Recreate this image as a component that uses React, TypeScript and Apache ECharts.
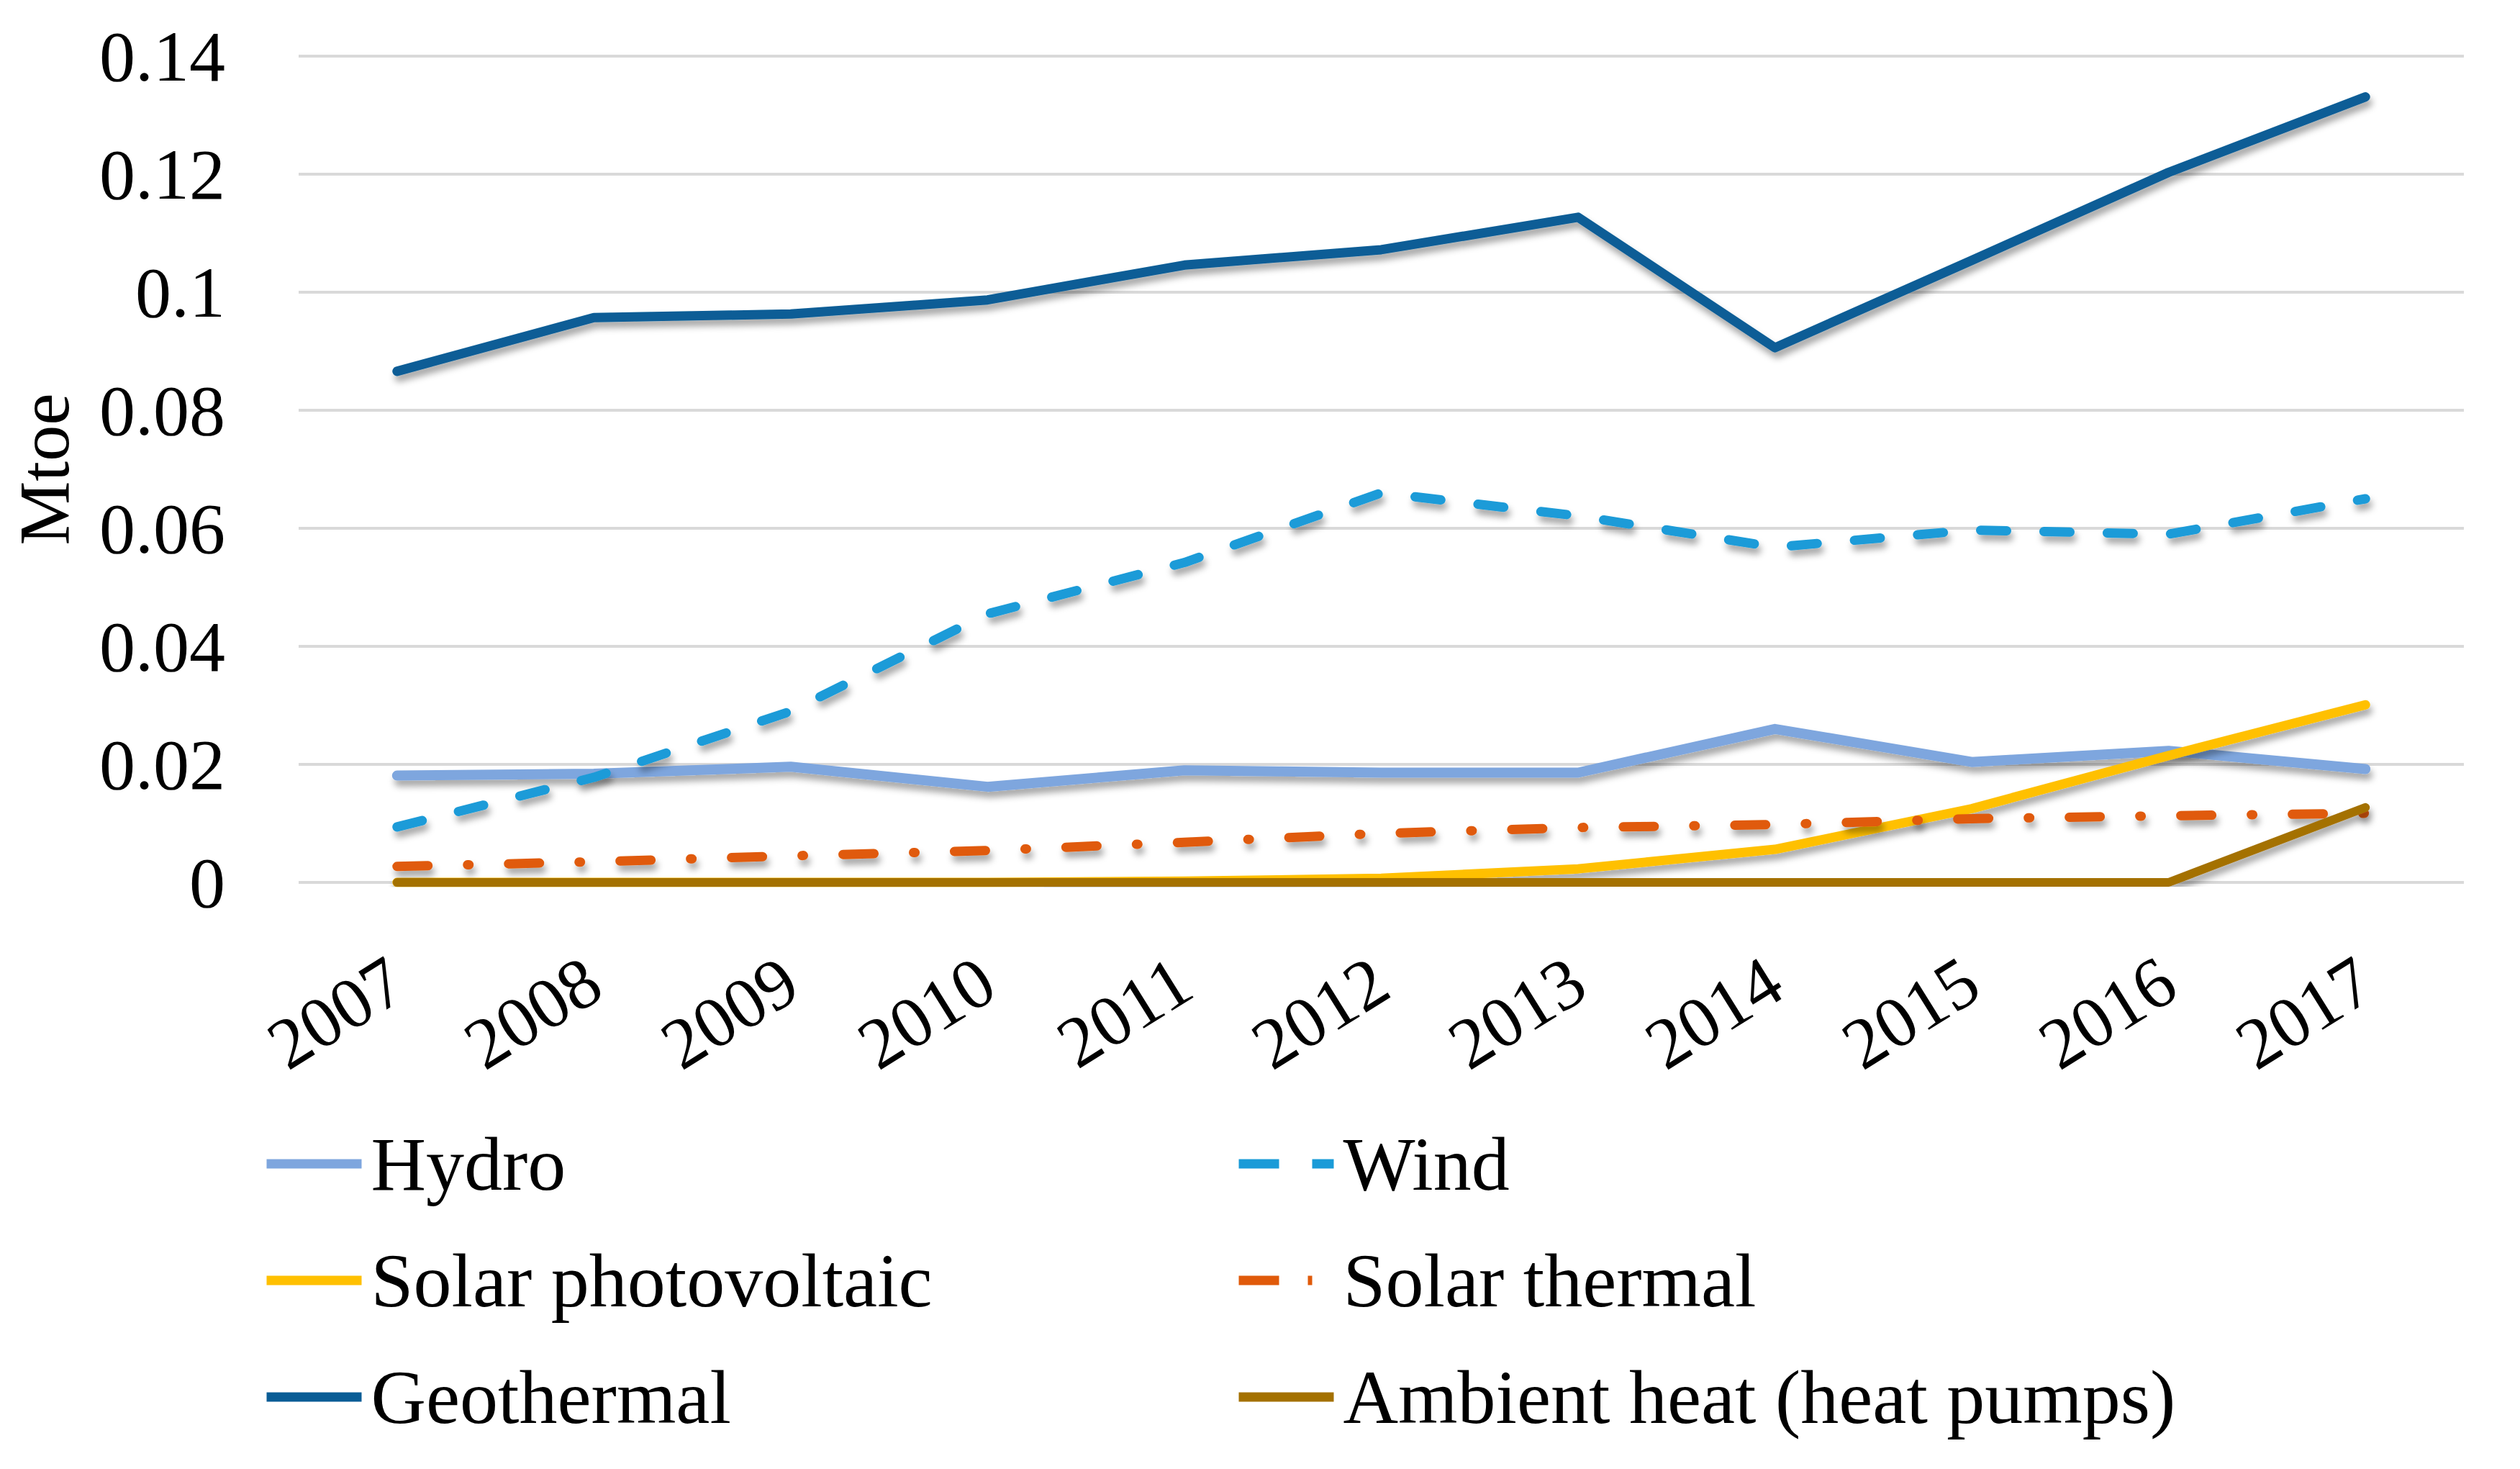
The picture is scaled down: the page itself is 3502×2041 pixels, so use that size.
import React, { useEffect, useRef } from 'react';
import * as echarts from 'echarts';

// 年份和各能源数据 (Mtoe)
const years = ['2007', '2008', '2009', '2010', '2011', '2012', '2013', '2014', '2015', '2016', '2017'];
const hydro = [0.0181, 0.0184, 0.0196, 0.0162, 0.019, 0.0186, 0.0186, 0.026, 0.0204, 0.0223, 0.0192];
const wind = [0.0094, 0.0178, 0.029, 0.0455, 0.0542, 0.066, 0.0621, 0.0568, 0.0597, 0.059, 0.065];
const solarPV = [0, 0, 0, 0, 0.0002, 0.0007, 0.0023, 0.0056, 0.0125, 0.0215, 0.0301];
const solarThermal = [0.0027, 0.0035, 0.0045, 0.0054, 0.0068, 0.0083, 0.0093, 0.0098, 0.0108, 0.0113, 0.0117];
const geothermal = [0.0866, 0.0957, 0.0963, 0.0987, 0.1046, 0.1072, 0.1127, 0.0906, 0.1054, 0.1203, 0.1331];
const ambientHeat = [0, 0, 0, 0, 0, 0, 0, 0, 0, 0, 0.0127];

const FONT = "'Liberation Serif', 'Times New Roman', serif";

const WIND_DASH = [36, 52];
const THERMAL_DASH = [43, 55, 2, 55];

const shadow = {
  shadowColor: 'rgba(0, 0, 0, 0.35)',
  shadowBlur: 10,
  shadowOffsetX: 3,
  shadowOffsetY: 8,
};

const makeLine = (name: string, data: number[], color: string, width: number, type: any = 'solid') => ({
  name,
  type: 'line',
  data,
  symbol: 'none',
  showSymbol: false,
  lineStyle: {
    color,
    width,
    type,
    cap: 'round',
    join: 'round',
    ...shadow,
  },
  itemStyle: { color },
});

const App: React.FC = () => {
  const chartRef = useRef<HTMLDivElement>(null);

  useEffect(() => {
    if (!chartRef.current) return;
    const chart = echarts.init(chartRef.current, undefined, { renderer: 'svg' });

    const legendCommon = {
      orient: 'vertical',
      top: 1564,
      padding: 0,
      itemWidth: 132,
      itemHeight: 14,
      itemGap: 56,
      // 隐藏图例中间的圆点，只保留线
      itemStyle: { opacity: 0 },
      lineStyle: { width: 13, cap: 'butt', shadowBlur: 0 },
      textStyle: {
        fontFamily: FONT,
        fontSize: 106,
        lineHeight: 100,
        color: '#000',
        padding: [0, 0, 0, 8],
      },
    };

    const option: any = {
      animation: false,
      backgroundColor: '#fff',
      grid: {
        left: 415,
        right: 78,
        top: 78,
        bottom: 815,
        containLabel: false,
      },
      legend: [
        {
          ...legendCommon,
          left: 364,
          data: ['Hydro', 'Solar photovoltaic', 'Geothermal'],
        },
        {
          ...legendCommon,
          left: 1715,
          data: [
            { name: 'Wind', lineStyle: { type: [56, 46] } },
            { name: 'Solar thermal', lineStyle: { type: [56, 40, 6, 60] } },
            'Ambient heat (heat pumps)',
          ],
        },
      ],
      xAxis: {
        type: 'category',
        data: years,
        boundaryGap: true,
        axisLine: { show: false },
        axisTick: { show: false },
        axisLabel: {
          rotate: 32,
          margin: 128,
          fontFamily: FONT,
          fontSize: 100,
          color: '#000',
        },
      },
      yAxis: {
        type: 'value',
        min: 0,
        max: 0.14,
        interval: 0.02,
        name: 'Mtoe',
        nameLocation: 'middle',
        nameRotate: 90,
        nameGap: 304,
        nameTextStyle: {
          fontFamily: FONT,
          fontSize: 100,
          color: '#000',
        },
        axisLine: { show: false },
        axisTick: { show: false },
        axisLabel: {
          margin: 102,
          fontFamily: FONT,
          fontSize: 100,
          color: '#000',
          formatter: (v: number) => String(parseFloat(v.toFixed(2))),
        },
        splitLine: {
          lineStyle: { color: '#D9D9D9', width: 4 },
        },
      },
      series: [
        makeLine('Hydro', hydro, '#7EA6DE', 14),
        makeLine('Wind', wind, '#1A9BD8', 13, WIND_DASH),
        makeLine('Solar photovoltaic', solarPV, '#FFC000', 13),
        makeLine('Solar thermal', solarThermal, '#E05A0A', 13, THERMAL_DASH),
        makeLine('Geothermal', geothermal, '#0A5D96', 13),
        makeLine('Ambient heat (heat pumps)', ambientHeat, '#A47100', 12),
      ],
    };

    chart.setOption(option);

    const handleResize = () => chart.resize();
    window.addEventListener('resize', handleResize);
    return () => {
      window.removeEventListener('resize', handleResize);
      chart.dispose();
    };
  }, []);

  return (
    <div
      ref={chartRef}
      style={{
        position: 'absolute',
        left: 0,
        top: 0,
        width: '3502px',
        height: '2041px',
      }}
    />
  );
};

export default App;
